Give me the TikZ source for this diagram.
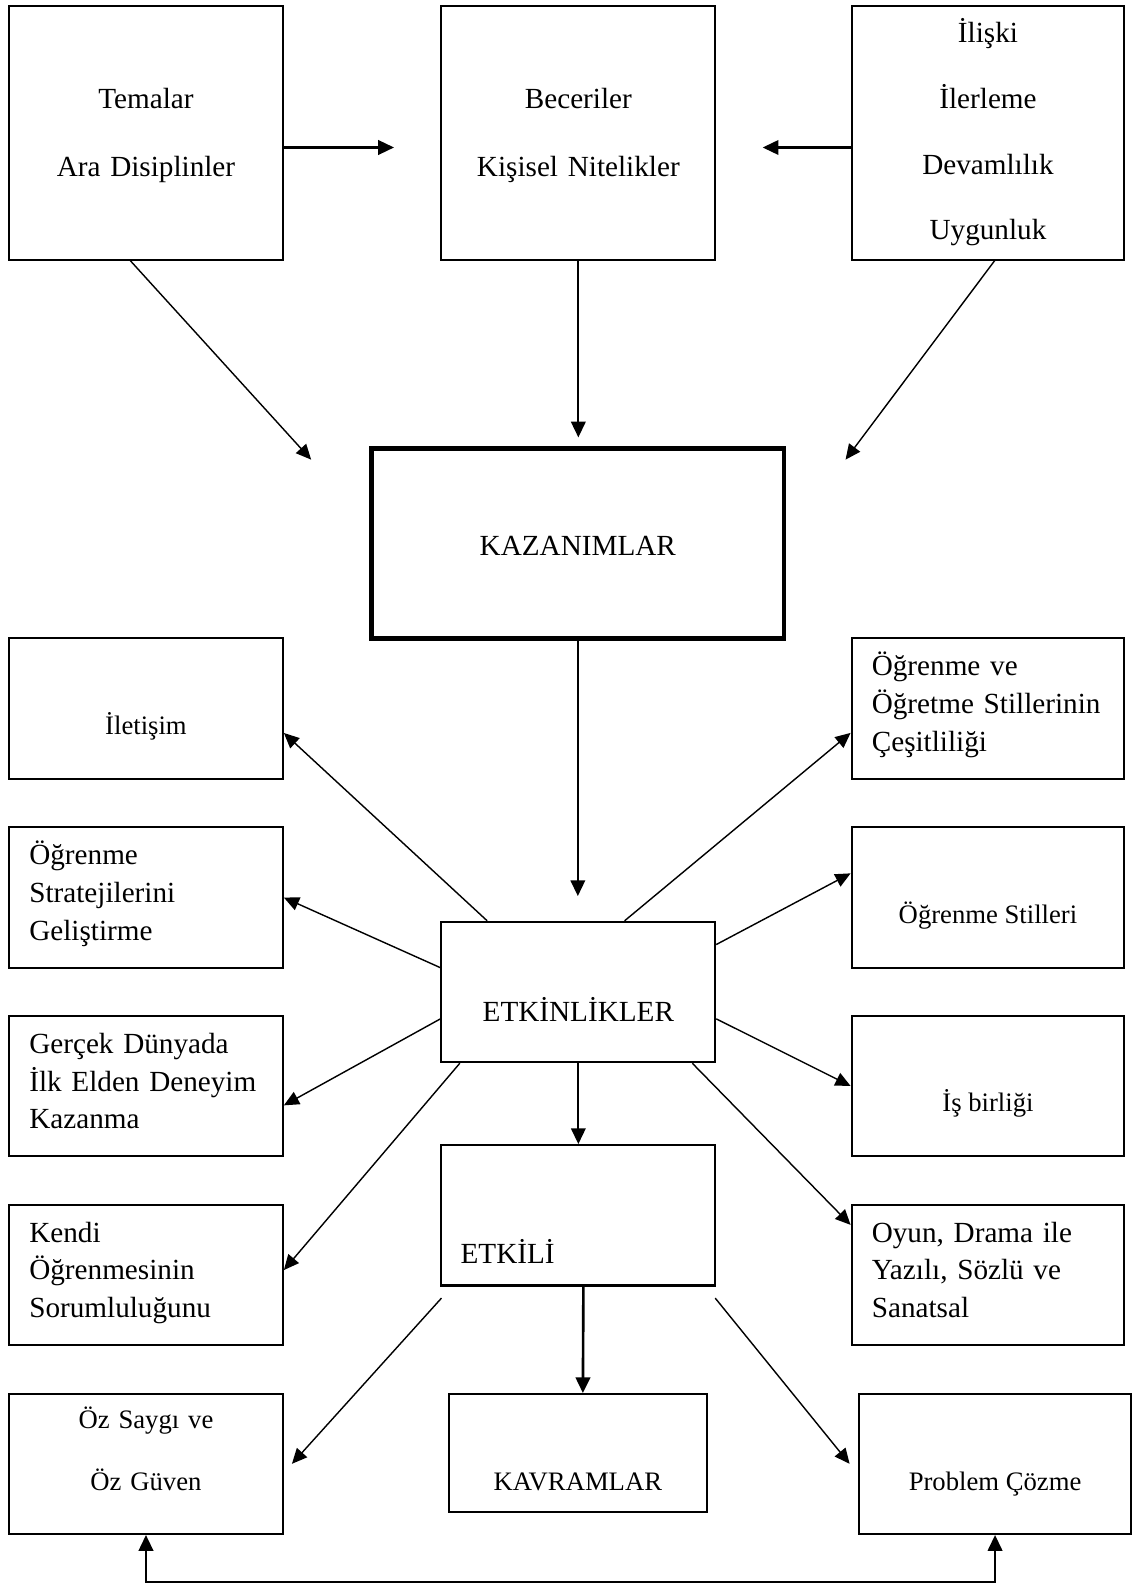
\documentclass[tikz,border=0pt]{standalone}
\usepackage{fontspec}
\setmainfont{Liberation Serif}
\usetikzlibrary{arrows.meta}

\begin{document}
\begin{tikzpicture}[x=0.5pt, y=-0.5pt,
                box/.style={rectangle, draw, line width=1pt, inner sep=0pt,
                    minimum width=135.5pt, minimum height=69.5pt,
                    font=\fontsize{14.45pt}{18.75pt}\selectfont},
                small/.style={font=\fontsize{13.2pt}{17pt}\selectfont},
                lo/.style={text height=#1, text depth=0pt},
                hi/.style={text height=0pt, text depth=#1},
                lefttext/.style={text width=#1, inner xsep=10pt, align=left},
                arrow/.style={-{Triangle[length=7.8pt, width=7.2pt]}, line width=1pt},
                thinarrow/.style={-{Triangle[length=7.5pt, width=6.8pt]}, line width=0.7pt}]

                \useasboundingbox (0,0) rectangle (1127,1568);

                % Top row
                \node[box, minimum height=125.5pt, text width=135.5pt, align=center, hi=24pt]
                    (temalar) at (144.5,131.5) {Temalar\\[14.75pt]Ara Disiplinler};
                \node[box, minimum height=125.5pt, text width=135.5pt, align=center, hi=24pt]
                    (beceri) at (572.5,131.5) {Beceriler\\[14.75pt]Kişisel Nitelikler};
                \node[box, minimum width=135pt, minimum height=125.5pt, text width=135pt, align=center, hi=89pt]
                    (iliski) at (978,131.5) {İlişki\\[13.75pt]İlerleme\\[13.75pt]Devamlılık\\[13.75pt]Uygunluk};

                % Centre
                \node[box, line width=2.4pt, minimum width=204pt, minimum height=94pt, lo=11.5pt]
                    (kazanim) at (572,538) {KAZANIMLAR};
                \node[box, lo=29.5pt] (etkinlik) at (572.5,982) {ETKİNLİKLER};
                \node[box, text width=116.5pt, inner xsep=9.5pt, align=left, lo=47.5pt]
                    (etkili) at (572.5,1203) {ETKİLİ};
                \node[box, small, minimum width=128pt, minimum height=58.5pt, lo=37pt]
                    (kavram) at (572,1438.5) {KAVRAMLAR};

                % Left column
                \node[box, small, lo=26pt] (iletisim) at (144.5,701.5) {İletişim};
                \node[box, lefttext=115.5pt, hi=33pt] (strateji) at (144.5,888.5)
                    {Öğrenme\\Stratejilerini\\Geliştirme};
                \node[box, lefttext=115.5pt, hi=32.5pt] (gercek) at (144.5,1075)
                    {Gerçek Dünyada\\İlk Elden Deneyim\\Kazanma};
                \node[box, lefttext=115.5pt, hi=32.5pt] (kendi) at (144.5,1262)
                    {Kendi\\Öğrenmesinin\\Sorumluluğunu};
                \node[box, small, text width=135.5pt, align=center, hi=34.5pt] (ozsaygi) at (144.5,1449)
                    {Öz Saygı ve\\[13.5pt]Öz Güven};

                % Right column
                \node[box, minimum width=135pt, lefttext=115pt, hi=33pt] (ogretme) at (978,701.5)
                    {Öğrenme ve\\Öğretme Stillerinin\\Çeşitliliği};
                \node[box, small, minimum width=135pt, lo=26pt] (stiller) at (978,888.5) {Öğrenme Stilleri};
                \node[box, small, minimum width=135pt, lo=25.5pt] (isbirligi) at (978,1075) {İş birliği};
                \node[box, minimum width=135pt, lefttext=115pt, hi=32.5pt] (oyun) at (978,1262)
                    {Oyun, Drama ile\\Yazılı, Sözlü ve\\Sanatsal};
                \node[box, small, minimum width=135pt, lo=26.5pt] (problem) at (985,1449) {Problem Çözme};

                % Free arrow ends
                \coordinate (t1) at (390,146);
                \coordinate (t2) at (755,146);
                \coordinate (t3) at (308,455);
                \coordinate (t4) at (837,455);
                \coordinate (t5) at (572.5,433);
                \coordinate (t6) at (572,887);
                \coordinate (e1) at (437,1285);
                \coordinate (e2) at (708,1285);
                \coordinate (base) at (0,1566);

                % Connections
                \draw[arrow] (temalar.east |- t1) -- (t1);
                \draw[arrow] (iliski.west |- t2) -- (t2);
                \draw[thinarrow] (temalar.263) -- (t3);
                \draw[thinarrow] (iliski.273) -- (t4);
                \draw[arrow] (beceri.south) -- (t5);
                \draw[arrow] (kazanim.south) -- (t6);

                \draw[thinarrow] (etkinlik.142) -- (iletisim.350);
                \draw[thinarrow] (etkinlik.170) -- (strateji.east);
                \draw[thinarrow] (etkinlik.191) -- (gercek.352);
                \draw[thinarrow] (etkinlik.211) -- (kendi.2);
                \draw[thinarrow] (etkinlik.57) -- (ogretme.190);
                \draw[thinarrow] (etkinlik.19) -- (stiller.170);
                \draw[thinarrow] (etkinlik.349) -- (isbirligi.west);
                \draw[thinarrow] (etkinlik.328) -- (oyun.160);

                \draw[arrow] (etkinlik.south) -- (etkili.north);
                \draw[arrow, line width=1.3pt] ([xshift=2.5pt]etkili.south) -- ([xshift=2.5pt]kavram.north);
                \draw[thinarrow] (e1) -- ([xshift=4pt]ozsaygi.east);
                \draw[thinarrow] (e2) -- ([xshift=-4pt]problem.west);

                \draw[{Triangle[length=7.8pt, width=7.2pt]}-{Triangle[length=7.8pt, width=7.2pt]}, line width=1pt]
                    (ozsaygi.south) |- (base -| problem.south) -- (problem.south);

            \end{tikzpicture}
\end{document}
